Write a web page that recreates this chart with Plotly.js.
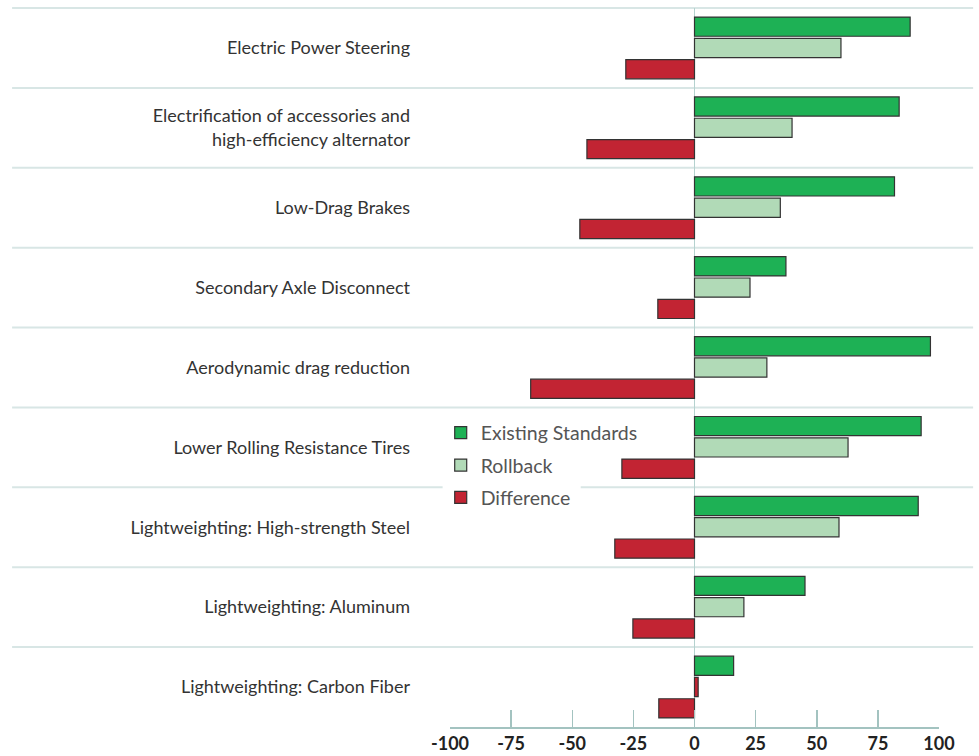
<!DOCTYPE html>
<html>
<head>
<meta charset="utf-8">
<script src="https://cdn.plot.ly/plotly-3.0.1.min.js"></script>
<style>
  html, body { margin: 0; padding: 0; background: #ffffff; }
  #chart { width: 979px; height: 756px; }
</style>
</head>
<body>
<div id="chart"></div>
<script>
// ---- Data ----
const categories = [
  "Electric Power Steering",
  "Electrification of accessories and<br>high-efficiency alternator",
  "Low-Drag Brakes",
  "Secondary Axle Disconnect",
  "Aerodynamic drag reduction",
  "Lower Rolling Resistance Tires",
  "Lightweighting: High-strength Steel",
  "Lightweighting: Aluminum",
  "Lightweighting: Carbon Fiber"
];
const existingStandards = [88.2, 83.7, 81.8, 37.4, 96.5, 92.7, 91.5, 45.2, 16.0];
const rollback          = [59.9, 39.9, 35.1, 22.7, 29.6, 62.8, 59.1, 20.2, 1.5];
const difference        = [-28.1, -44.0, -46.9, -15.0, -67.0, -29.7, -32.6, -25.2, -14.6];
const tickValues = [-100, -75, -50, -25, 0, 25, 50, 75, 100];
const tickLabels = ["-100", "-75", "-50", "-25", "0", "25", "50", "75", "100"];

// ---- Styles ----
const GREEN = "#1eb155";
const LIGHT = "#b1dab7";
const RED = "#c22433";
const OUTLINE = "#333333";
const SEP = "#d8e6e5";
const AXIS = "#a3c3c0";

// Rollback bars: light green, except the tiny Carbon Fiber bar drawn in red
const rollbackColors = rollback.map((v, i) => i === categories.length - 1 ? RED : LIGHT);

const traces = [
  { type: "bar", orientation: "h", name: "Existing Standards", y: categories, x: existingStandards,
    legendgroup: "a", marker: { color: GREEN, line: { color: OUTLINE, width: 1.2 } }, hoverinfo: "x+y" },
  { type: "bar", orientation: "h", name: "Rollback", y: categories, x: rollback,
    legendgroup: "b", marker: { color: rollbackColors, line: { color: OUTLINE, width: 1.2 } }, hoverinfo: "x+y" },
  { type: "bar", orientation: "h", name: "Difference", y: categories, x: difference,
    legendgroup: "c", marker: { color: RED, line: { color: OUTLINE, width: 1.2 } }, hoverinfo: "x+y" }
];

// separator lines between categories (paper coordinates, extend across label area)
const shapes = [];
const n = categories.length;
const xl = -0.8955, xr = 1.0698;
for (let k = 0; k < n; k++) {
  const yy = 1 - k / n;
  if (k === 6) {
    shapes.push({ type: "line", xref: "paper", yref: "paper", x0: xl, x1: -0.0151, y0: yy, y1: yy,
      line: { color: SEP, width: 2 }, layer: "below" });
    shapes.push({ type: "line", xref: "paper", yref: "paper", x0: 0.2673, x1: xr, y0: yy, y1: yy,
      line: { color: SEP, width: 2 }, layer: "below" });
  } else {
    shapes.push({ type: "line", xref: "paper", yref: "paper", x0: xl, x1: xr, y0: yy, y1: yy,
      line: { color: SEP, width: 2 }, layer: "below" });
  }
}

const layout = {
  width: 979, height: 756,
  margin: { l: 450, r: 40, t: 8, b: 29, pad: 0 },
  paper_bgcolor: "#ffffff", plot_bgcolor: "rgba(0,0,0,0)",
  font: { family: "Lato, 'Open Sans', sans-serif", color: "#333333" },
  barmode: "group", bargap: 0.2, bargroupgap: 0.1,
  showlegend: true,
  legend: {
    x: -0.019, xanchor: "left", y: 0.436, yanchor: "top",
    bgcolor: "rgba(0,0,0,0)", borderwidth: 0,
    traceorder: "grouped", tracegroupgap: 4,
    font: { family: "Lato, sans-serif", size: 19.5, color: "#555555" }
  },
  xaxis: {
    range: [-100, 100], fixedrange: true,
    tickmode: "array", tickvals: tickValues, ticktext: tickLabels,
    ticks: "inside", ticklen: 17, tickwidth: 1.5, tickcolor: AXIS,
    showline: true, linecolor: AXIS, linewidth: 1.5,
    showgrid: false,
    zeroline: true, zerolinecolor: "#b5d2cf", zerolinewidth: 1.5,
    ticklabelstandoff: 0,
    tickfont: { family: "Lato, sans-serif", size: 18, color: "#222222", weight: "bold" }
  },
  yaxis: {
    type: "category", autorange: "reversed", fixedrange: true,
    showgrid: false, zeroline: false, showline: false, ticks: "",
    ticklabelstandoff: 39,
    tickfont: { family: "Lato, sans-serif", size: 18, color: "#333333" }
  },
  shapes: shapes
};

Plotly.newPlot("chart", traces, layout, { displayModeBar: false, staticPlot: true });
</script>
</body>
</html>
